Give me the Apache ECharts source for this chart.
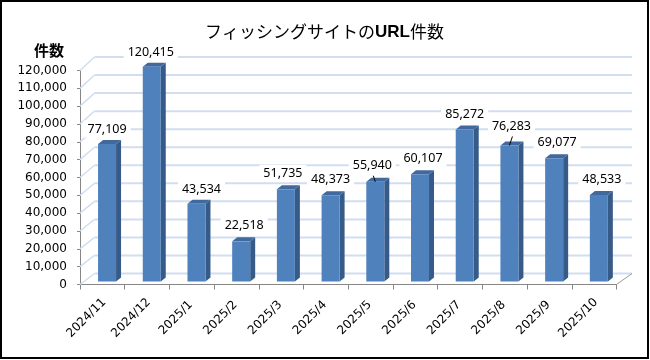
<!DOCTYPE html>
<html>
<head>
<meta charset="utf-8">
<script src="https://cdn.jsdelivr.net/npm/echarts@6/dist/echarts.min.js"></script>
<style>
html,body{margin:0;padding:0;background:#fff;}
#chart{width:650px;height:360px;}
</style>
</head>
<body>
<div id="chart"></div>
<script>
// ---- data ----
const categories = ['2024/11','2024/12','2025/1','2025/2','2025/3','2025/4','2025/5','2025/6','2025/7','2025/8','2025/9','2025/10'];
const values = [77109,120415,43534,22518,51735,48373,55940,60107,85272,76283,69077,48533];
const yTicks = [0,10000,20000,30000,40000,50000,60000,70000,80000,90000,100000,110000,120000];
const yAxisName = '件数';
const titleParts = ['フィッシングサイトの','URL','件数'];
// label nudges (manual label placement in the original)
const labelNudgeX = [0,-1,5,3,-3,0,-3,3,0,2,3,3];
const labelNudgeY = [1,2,2,0,0,0,0,0,1,-3,0,0];
const labelLeader = [false,false,false,false,false,false,true,false,false,true,false,false];

function fmt(n){ return String(n).replace(/\B(?=(\d{3})+(?!\d))/g, ','); }

const chart = echarts.init(document.getElementById('chart'), null, {renderer:'canvas'});

// 3D geometry
const BACK_DX = 14.5, BACK_DY = -11, BACK_K = 216.5/214, BACK_DX_R = 15.5;
const BAR_SHIFT = 4.7, BAR_HALF = 9, BAR_BASE = -3, DEPTH_X = 5, DEPTH_Y = -4;

function wallItem(params, api){
  const cs = params.coordSys;
  const v = api.value(1);
  const yF = api.coord([0, v])[1];
  const yBase = cs.y + cs.height;
  const yB = yBase + BACK_DY + (yF - yBase) * BACK_K;
  const xF = cs.x;
  const xB0 = cs.x + BACK_DX;
  const xB1 = cs.x + cs.width + BACK_DX_R;
  const st = {stroke:'#d2deef', lineWidth:2};
  const children = [
    {type:'line', shape:{x1:xF, y1:yF, x2:xB0, y2:yB}, style:{stroke:'#d2deef', lineWidth:1.5}},
    {type:'line', shape:{x1:xB0, y1:yB, x2:xB1, y2:yB}, style:st}
  ];
  if (v === 0) {
    children.push({type:'line', shape:{x1:xB1, y1:yB, x2:cs.x+cs.width, y2:yF}, style:{stroke:'#9a9a9a', lineWidth:1}});
  }
  return {type:'group', children};
}

function barItem(params, api){
  const i = api.value(0);
  const v = api.value(1);
  const top = api.coord([i, v]);
  const bot = api.coord([i, 0]);
  const cx = top[0] + BAR_SHIFT;
  const yT = top[1] + BAR_BASE;
  const yBt = bot[1] + BAR_BASE;
  const l = cx - BAR_HALF, r = cx + BAR_HALF;
  const children = [
    {type:'polygon', shape:{points:[[r,yT],[r+DEPTH_X,yT+DEPTH_Y],[r+DEPTH_X,yBt+DEPTH_Y],[r,yBt]]}, style:{fill:'#375b88'}},
    {type:'polygon', shape:{points:[[l,yT],[l+DEPTH_X,yT+DEPTH_Y],[r+DEPTH_X,yT+DEPTH_Y],[r,yT]]}, style:{fill:'#41699d'}},
    {type:'rect', shape:{x:l, y:yT, width:r-l, height:yBt-yT}, style:{fill:'#4f81bd'}}
  ];
  const lx = cx + labelNudgeX[i];
  const ly = yT - 16 + labelNudgeY[i];
  children.push({type:'text', x:lx, y:ly, style:{
    text: fmt(v), x:0, y:0, align:'center', verticalAlign:'middle',
    fontFamily:'Noto Sans', fontSize:12.5, fill:'#000',
    backgroundColor:'#fff', padding:[2,4,2,4]
  }});
  if (labelLeader[i]) {
    children.push({type:'line', shape:{x1:lx+1, y1:ly+10, x2:cx, y2:yT}, style:{stroke:'#000', lineWidth:1}});
  }
  return {type:'group', children};
}

const option = {
  animation:false,
  backgroundColor:'#fff',
  title:{
    text:'{a|'+titleParts[0]+'}{b|'+titleParts[1]+'}{a|'+titleParts[2]+'}',
    left:205, top:21, padding:0,
    textStyle:{
      fontWeight:'normal',
      rich:{
        a:{fontFamily:'Noto Sans CJK JP', fontSize:17, fontWeight:'normal', color:'#000', lineHeight:22},
        b:{fontFamily:'Liberation Sans', fontSize:17, fontWeight:'bold', color:'#000', lineHeight:22}
      }
    }
  },
  graphic:[{type:'rect', shape:{x:1, y:1, width:647, height:357}, style:{fill:null, stroke:'#000', lineWidth:2}, z:100, silent:true}],
  grid:{left:80, right:33.5, top:70.5, bottom:75.5, containLabel:false},
  xAxis:{
    type:'category', data:categories, boundaryGap:true,
    axisLine:{lineStyle:{color:'#868686'}},
    axisTick:{show:true, length:5, lineStyle:{color:'#868686'}},
    axisLabel:{interval:0, rotate:45, align:'center', verticalAlign:'middle', margin:17.5, padding:[0,45,0,0],
      fontFamily:'DejaVu Sans', fontSize:12, color:'#000'},
    splitLine:{show:false}
  },
  yAxis:{
    type:'value', min:0, max:120000, interval:10000,
    name:yAxisName, nameLocation:'end', nameGap:20,
    nameTextStyle:{fontFamily:'Noto Sans CJK JP', fontSize:15, fontWeight:'bold', color:'#000', align:'right', verticalAlign:'middle', padding:[0,16,0,0]},
    axisLine:{show:true, lineStyle:{color:'#868686'}},
    axisTick:{show:true, length:3, lineStyle:{color:'#868686'}},
    axisLabel:{margin:13, fontFamily:'DejaVu Sans', fontSize:12, color:'#000', formatter:(v)=>fmt(v)},
    splitLine:{show:false}
  },
  series:[
    {type:'custom', name:'walls', renderItem:wallItem, data:yTicks.map(v=>[0,v]), z:1, silent:true, clip:false},
    {type:'custom', name:'bars', renderItem:barItem, data:values.map((v,i)=>[i,v]), z:2, silent:true, clip:false}
  ]
};
chart.setOption(option);
</script>
</body>
</html>
